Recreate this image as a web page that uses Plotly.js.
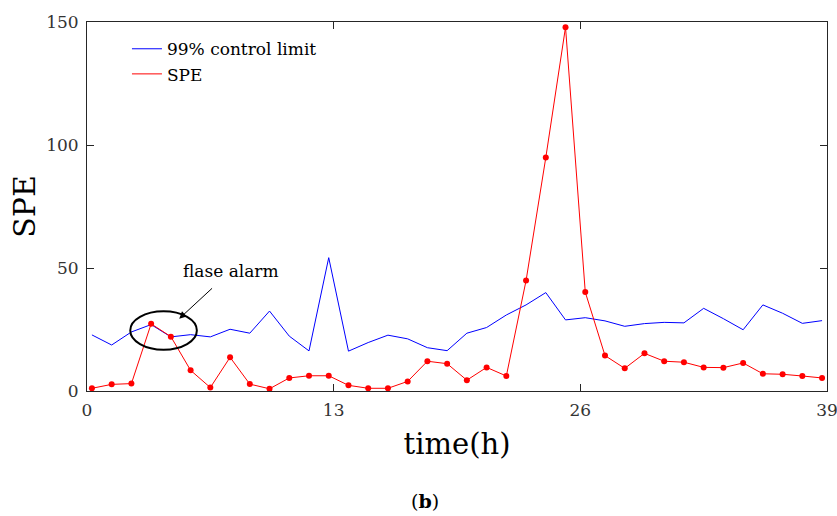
<!DOCTYPE html>
<html>
<head>
<meta charset="utf-8">
<script src="https://cdn.plot.ly/plotly-3.0.1.min.js"></script>
<style>html,body{margin:0;padding:0;background:#fff;}#chart{width:837px;height:516px;}</style>
</head>
<body>
<div id="chart"></div>
<script>
// time (h) of each sample
var timeH = [0.26, 1.30, 2.34, 3.38, 4.42, 5.46, 6.50, 7.54, 8.58, 9.62, 10.66, 11.70, 12.74, 13.78, 14.82, 15.86, 16.90, 17.94, 18.98, 20.02, 21.06, 22.10, 23.14, 24.18, 25.22, 26.26, 27.30, 28.34, 29.38, 30.42, 31.46, 32.50, 33.54, 34.58, 35.62, 36.66, 37.70, 38.74];
// 99% control limit
var controlLimit = [22.8, 18.7, 24.0, 27.0, 22.0, 22.9, 22.0, 25.1, 23.5, 32.5, 22.3, 16.3, 54.2, 16.2, 19.7, 22.7, 21.2, 17.6, 16.4, 23.5, 25.8, 30.9, 35.0, 40.0, 28.9, 29.8, 28.5, 26.3, 27.4, 27.9, 27.7, 33.6, 29.4, 24.9, 35.0, 31.6, 27.5, 28.6];
// SPE statistic
var spe = [1.1, 2.7, 3.0, 27.3, 22.1, 8.4, 1.4, 13.7, 2.8, 0.9, 5.3, 6.2, 6.2, 2.3, 1.1, 1.1, 3.9, 12.1, 11.1, 4.4, 9.6, 6.1, 44.9, 94.9, 147.9, 40.2, 14.4, 9.2, 15.3, 12.1, 11.7, 9.6, 9.5, 11.4, 7.0, 6.8, 6.1, 5.3];
var xTicks = [0, 13, 26, 39];
var yTicks = [0, 50, 100, 150];
var seriesNames = ["99% control limit", "SPE"];
var annText = "flase alarm";

var FONT = "DejaVu Serif, Liberation Serif, serif";

var traces = [
  {x: timeH, y: controlLimit, mode: "lines", name: seriesNames[0],
   line: {color: "#0000ff", width: 1}},
  {x: timeH, y: spe, mode: "lines", name: seriesNames[1],
   line: {color: "#ff0000", width: 1}},
  {x: timeH, y: spe, mode: "markers", showlegend: false, hoverinfo: "skip",
   marker: {color: "#ff0000", size: 6}}
];

var axisCommon = {
  showgrid: false, zeroline: false, showline: true, linecolor: "#262626", linewidth: 1,
  mirror: "allticks", ticks: "inside", ticklen: 7, tickcolor: "#262626", tickwidth: 1,
  tickfont: {family: FONT, size: 17, color: "#333333"}, tickmode: "array",
  ticklabeloverflow: "allow"
};

var layout = {
  width: 837, height: 516,
  margin: {l: 87, r: 10, t: 22, b: 125},
  paper_bgcolor: "#ffffff", plot_bgcolor: "#ffffff",
  font: {family: FONT, color: "#000"},
  xaxis: Object.assign({}, axisCommon, {
    range: [0, 39], tickvals: xTicks, ticktext: xTicks.map(String),
    ticklabelstandoff: 4,
    title: {text: "time(h)", font: {family: FONT, size: 29, color: "#000"}, standoff: 14}
  }),
  yaxis: Object.assign({}, axisCommon, {
    range: [0, 150], tickvals: yTicks, ticktext: yTicks.map(String),
    ticklabelstandoff: 4,
    title: {text: "SPE", font: {family: FONT, size: 30, color: "#000"}, standoff: 1}
  }),
  showlegend: true,
  legend: {x: 0.054, y: 0.975, xanchor: "left", yanchor: "top",
    bgcolor: "rgba(0,0,0,0)", borderwidth: 0,
    font: {family: FONT, size: 17, color: "#000"}, tracegroupgap: 0},
  shapes: [
    {type: "circle", xref: "x", yref: "y", x0: 2.28, x1: 5.79, y0: 16.8, y1: 32.4,
     line: {color: "#000", width: 2}}
  ],
  annotations: [
    {xref: "x", yref: "y", x: 7.61, y: 48.7, text: annText, showarrow: false,
     font: {family: FONT, size: 17, color: "#000"}, xanchor: "center", yanchor: "middle"},
    {xref: "x", yref: "y", axref: "x", ayref: "y", x: 4.86, y: 29.4, ax: 6.67, ay: 42.3,
     text: "", showarrow: true, arrowhead: 2, arrowsize: 1.4, arrowwidth: 1, arrowcolor: "#000"},
    {xref: "paper", yref: "paper", x: 0.4568, y: -0.297, text: "(<b>b</b>)", showarrow: false,
     font: {family: FONT, size: 19, color: "#000"}, xanchor: "center", yanchor: "middle"}
  ]
};

Plotly.newPlot("chart", traces, layout, {staticPlot: true, displayModeBar: false});
</script>
</body>
</html>
